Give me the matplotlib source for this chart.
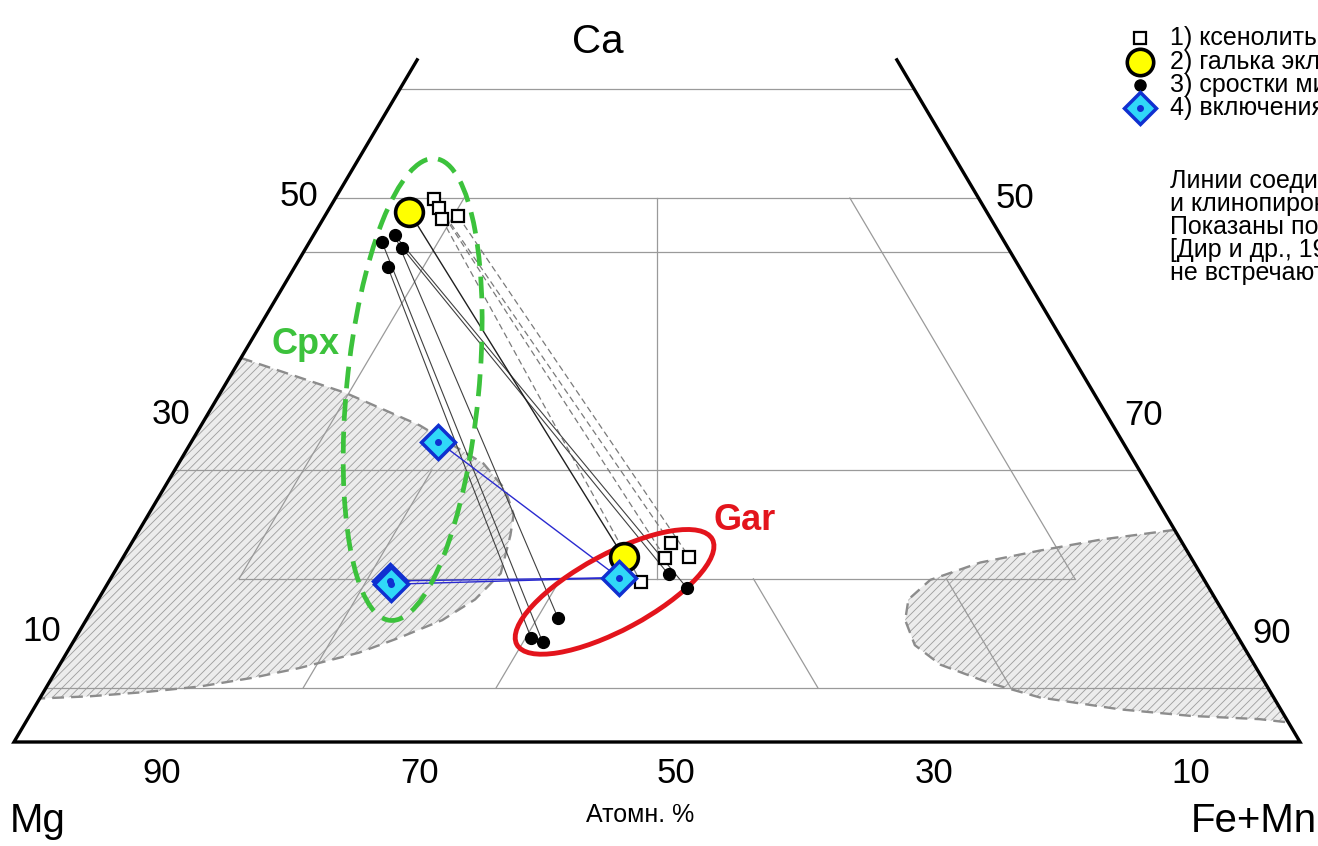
import numpy as np
import matplotlib.pyplot as plt
from matplotlib.patches import Ellipse, Polygon
from matplotlib.transforms import ScaledTranslation

plt.rcParams['font.family'] = ['Liberation Sans', 'DejaVu Sans']
plt.rcParams['hatch.linewidth'] = 0.6

# Compositions in atomic %: (Ca, Fe+Mn); Mg = 100 - Ca - Fe
xeno_ca = [49.9, 49.1, 48.1, 48.3, 18.3, 16.9, 17.0, 14.7]
xeno_fe = [7.7, 8.5, 9.2, 10.4, 41.9, 42.2, 44.0, 41.4]

pebble_ca = [48.7, 17.0]
pebble_fe = [6.4, 38.9]

inter_ca = [46.0, 46.6, 45.4, 43.7, 9.6, 9.2, 11.4, 15.4, 14.2]
inter_fe = [5.6, 6.3, 7.5, 7.2, 35.4, 36.5, 36.6, 43.2, 45.2]

incl_ca = [27.6, 14.8, 14.5, 15.1]
incl_fe = [19.2, 21.8, 22.1, 39.5]

# tie lines cpx -> garnet (indices into the arrays above)
xeno_ties = [(0, 4), (1, 5), (2, 7), (3, 6)]
pebble_ties = [(0, 1)]
inter_ties = [(3, 4), (0, 5), (1, 6), (2, 7), (1, 8)]
incl_ties = [(0, 3), (1, 3), (2, 3)]

# fields that do not occur in nature [Dir et al.]
field_left_ca = [35.3, 32.1, 29.1, 25.6, 23.2, 20.9, 19.0, 15.5, 13.1, 11.2, 9.6, 8.2, 6.8, 5.9, 5.1, 4.6, 4.2, 4.0]
field_left_fe = [0.0, 9.7, 17.0, 23.7, 26.6, 28.4, 29.1, 30.1, 29.3, 27.7, 25.2, 22.7, 18.8, 15.6, 11.9, 8.0, 3.8, 0.0]
field_right_ca = [19.5, 18.6, 17.6, 16.5, 14.9, 13.1, 11.2, 8.9, 7.1, 5.4, 4.1, 3.0, 2.4, 2.1, 1.8]
field_right_fe = [80.5, 75.2, 71.0, 66.9, 63.8, 63.0, 63.7, 65.6, 68.5, 73.2, 77.7, 84.5, 90.3, 95.8, 98.2]

# mineral fields (centre Ca, Fe)
cpx_centre = (32.4, 14.8)
gar_centre = (13.8, 39.8)

ca_top = 62.7
ca_levels = [5, 25, 45, 50, 60]
left_ticks = [50, 30, 10]
right_ticks = [50, 70, 90]
bottom_ticks = [90, 70, 50, 30, 10]

legend_labels = ["1) ксенолиты эклогитов",
                 "2) галька эклогита",
                 "3) сростки минералов",
                 "4) включения в алмазах"]
note_lines = ["Линии соединяют гранат",
              "и клинопироксен одного образца.",
              "Показаны поля составов по",
              "[Дир и др., 1965], в которых",
              "не встречаются пироксены."]


def tern(ca, fe):
    ca = np.asarray(ca, dtype=float)
    fe = np.asarray(fe, dtype=float)
    return fe + ca / 2.0, ca


fig = plt.figure(figsize=(13.18, 8.46), dpi=100)
ax = fig.add_axes([0, 0, 1, 1])
ax.set_xlim(-14 / 12.86, 1304 / 12.86)
ax.set_ylim(-104 / 10.88, 742 / 10.88)
ax.axis('off')

grid_kw = dict(color='#9a9a9a', lw=0.9, zorder=1)

# grid: full Ca levels
for c in ca_levels:
    x, y = tern([c, c], [0, 100 - c])
    ax.plot(x, y, **grid_kw)

# inner triangle (Fe>=10, Mg>=10, Ca>=15) and Fe=Mg line
x, y = tern([15, 15], [10, 75])
ax.plot(x, y, **grid_kw)
x, y = tern([15, 50], [10, 10])
ax.plot(x, y, **grid_kw)
x, y = tern([15, 50], [75, 40])
ax.plot(x, y, **grid_kw)
x, y = tern([15, 50], [42.5, 25])
ax.plot(x, y, **grid_kw)

# short grid segments in the lower band
for fe in [20, 35]:
    top = 25 if fe == 20 else 15
    x, y = tern([5, top], [fe, fe])
    ax.plot(x, y, **grid_kw)
for mg in [35, 20]:
    x, y = tern([5, 15], [100 - mg - 5, 100 - mg - 15])
    ax.plot(x, y, **grid_kw)

# hatched fields
for fca, ffe in [(field_left_ca, field_left_fe), (field_right_ca, field_right_fe)]:
    x, y = tern(fca, ffe)
    poly = Polygon(np.column_stack([x, y]), closed=True, facecolor='#ececec',
                   edgecolor='#9c9c9c', hatch='////', lw=0, zorder=0.5)
    ax.add_patch(poly)
    ax.plot(x, y, color='#8c8c8c', lw=1.7, dashes=(5, 3), zorder=2)

# frame
x, y = tern([ca_top, 0, 0, ca_top], [0, 0, 100, 100 - ca_top])
ax.plot(x, y, color='black', lw=2.4, solid_joinstyle='miter', zorder=3)

# tie lines
xx, xy = tern(xeno_ca, xeno_fe)
for a, b in xeno_ties:
    ax.plot([xx[a], xx[b]], [xy[a], xy[b]], color='#7a7a7a', lw=0.9,
            dashes=(5, 3), zorder=4)
ix, iy = tern(inter_ca, inter_fe)
for a, b in inter_ties:
    ax.plot([ix[a], ix[b]], [iy[a], iy[b]], color='#404040', lw=0.8, zorder=4)
px_, py_ = tern(pebble_ca, pebble_fe)
for a, b in pebble_ties:
    ax.plot([px_[a], px_[b]], [py_[a], py_[b]], color='#202020', lw=1.0, zorder=4)
dx, dy = tern(incl_ca, incl_fe)
for a, b in incl_ties:
    ax.plot([dx[a], dx[b]], [dy[a], dy[b]], color='#2a2ad0', lw=1.0, zorder=4)

# mineral fields
def field(centre, w, h, ang, **kw):
    cx, cy = tern(*centre)
    tr = fig.dpi_scale_trans + ScaledTranslation(float(cx), float(cy), ax.transData)
    ax.add_patch(Ellipse((0, 0), w, h, angle=ang, transform=tr, fill=False, **kw))

field(cpx_centre, 4.64, 1.32, 84.4, edgecolor='#3cc23c', lw=3.4,
      linestyle=(0, (4.6, 2.3)), zorder=5)
field(gar_centre, 2.22, 0.76, 28.3, edgecolor='#e3141c', lw=3.5, zorder=5)

ax.text(*tern(36.5, 4.4), "Cpx", color='#3cc23c', fontsize=26, fontweight='bold',
        ha='center', va='center', zorder=6)
ax.text(*tern(20.4, 46.6), "Gar", color='#e3141c', fontsize=26, fontweight='bold',
        ha='center', va='center', zorder=6)

# points
ax.plot(xx, xy, 's', ms=8.5, mfc='white', mec='black', mew=1.6, ls='none', zorder=7)
ax.plot(ix, iy, 'o', ms=8.5, mfc='black', mec='black', ls='none', zorder=7)
ax.plot(px_, py_, 'o', ms=20, mfc='#ffff00', mec='black', mew=2.6, ls='none', zorder=8)
ax.plot(dx, dy, 'D', ms=17, mfc='#30d8f8', mec='#1030d0', mew=2.5, ls='none', zorder=9)
ax.plot(dx, dy, 'o', ms=4, mfc='#1030d0', mec='#1030d0', ls='none', zorder=10)

# edge labels
tick_fs = 25
for v in left_ticks:
    ax.annotate(str(v), tern(v, 0), xytext=(-26, 1), textcoords='offset points',
                fontsize=tick_fs, ha='center', va='center')
for v in right_ticks:
    ax.annotate(str(v), tern(100 - v, v), xytext=(26, 0), textcoords='offset points',
                fontsize=tick_fs, ha='center', va='center')
for v in bottom_ticks:
    ax.annotate(str(v), tern(0, 100 - v), xytext=(14, -23), textcoords='offset points',
                fontsize=tick_fs, ha='center', va='center')

ax.annotate("Mg", tern(0, 0), xytext=(17, -57), textcoords='offset points',
            fontsize=29, ha='center', va='center')
ax.annotate("Fe+Mn", tern(0, 100), xytext=(-33, -57), textcoords='offset points',
            fontsize=29, ha='center', va='center')
fig.text(598 / 1318, 1 - 42 / 846, "Ca", fontsize=29, ha='center', va='center')
fig.text(640 / 1318, 1 - 815 / 846, "Атомн. %", fontsize=18, ha='center', va='center')

# legend (cut by the right edge, as in the source figure)
lx = 1140 / 1318
tx = 1170 / 1318
rows = [38, 62, 85, 108]
styles = [dict(marker='s', ms=8, mfc='white', mec='black', mew=1.6),
          dict(marker='o', ms=19, mfc='#ffff00', mec='black', mew=2.6),
          dict(marker='o', ms=8, mfc='black', mec='black'),
          dict(marker='D', ms=16, mfc='#30d8f8', mec='#1030d0', mew=2.5)]
for r, st, lab in zip(rows, styles, legend_labels):
    fy = 1 - r / 846
    fig.add_artist(plt.Line2D([lx], [fy], transform=fig.transFigure, ls='none', **st))
    fig.text(tx, fy, lab, fontsize=18, ha='left', va='center')
fig.add_artist(plt.Line2D([lx], [1 - 108 / 846], transform=fig.transFigure, ls='none',
                          marker='o', ms=4, mfc='#1030d0', mec='#1030d0'))
for i, line in enumerate(note_lines):
    fig.text(tx, 1 - (181 + 23 * i) / 846, line, fontsize=18, ha='left', va='center')

fig.savefig('out.png', dpi=100)
